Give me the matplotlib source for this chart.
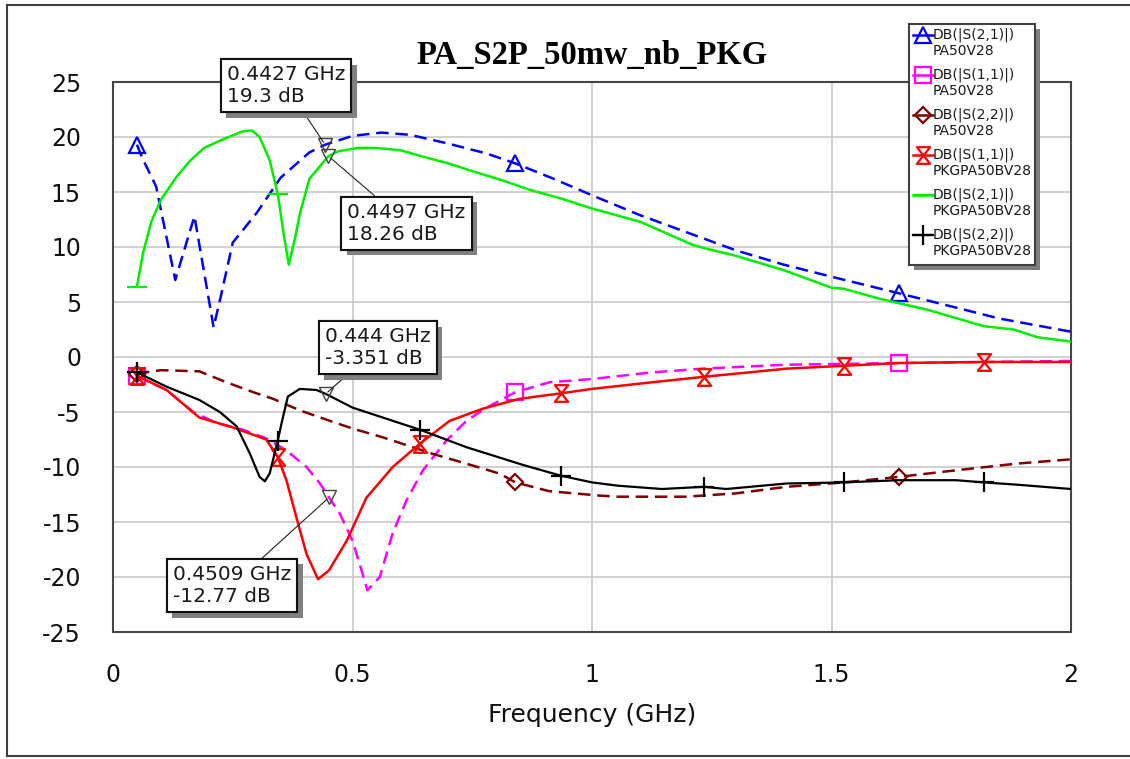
import matplotlib
matplotlib.use("Agg")
import matplotlib.pyplot as plt
import matplotlib.patheffects as pe
from matplotlib.lines import Line2D
from matplotlib.patches import Rectangle
from matplotlib.path import Path

plt.rcParams["axes.unicode_minus"] = False

W, H = 1130, 759

# --- data (GHz, dB) ---
# DB(|S(2,1)|) PA50V28
f_s21_pa = [0.05, 0.06, 0.09, 0.13, 0.17, 0.21, 0.225, 0.25, 0.30, 0.35, 0.41, 0.4427,
            0.50, 0.56, 0.62, 0.70, 0.78, 0.84, 0.92, 1.0, 1.1, 1.2, 1.3, 1.4, 1.5,
            1.64, 1.75, 1.85, 2.0]
db_s21_pa = [19.3, 18.2, 15.5, 7.0, 12.8, 2.7, 5.5, 10.4, 13.1, 16.3, 18.6, 19.3,
             20.1, 20.4, 20.2, 19.4, 18.5, 17.6, 16.2, 14.7, 12.9, 11.3, 9.7, 8.4, 7.3,
             5.8, 4.6, 3.5, 2.3]
mk_s21_pa = [0.05, 0.84, 1.64]

# DB(|S(1,1)|) PA50V28
f_s11_pa = [0.05, 0.112, 0.167, 0.216, 0.27, 0.32, 0.362, 0.404, 0.432, 0.4509, 0.473,
            0.50, 0.521, 0.531, 0.557, 0.584, 0.613, 0.647, 0.696, 0.738, 0.78, 0.84,
            0.911, 1.0, 1.125, 1.23, 1.406, 1.64, 2.0]
db_s11_pa = [-1.75, -3.0, -5.0, -6.0, -6.6, -7.4, -8.5, -10.0, -11.5, -12.77, -14.2,
             -16.7, -19.7, -21.2, -20.0, -16.0, -13.0, -10.3, -7.6, -5.8, -4.6, -3.2,
             -2.3, -2.0, -1.4, -1.06, -0.7, -0.55, -0.36]
mk_s11_pa = [0.05, 0.84, 1.64]

# DB(|S(2,2)|) PA50V28
f_s22_pa = [0.05, 0.10, 0.18, 0.237, 0.293, 0.334, 0.39, 0.459, 0.50, 0.563, 0.626,
            0.667, 0.738, 0.807, 0.84, 0.911, 1.016, 1.054, 1.195, 1.30, 1.406, 1.526,
            1.64, 1.76, 1.885, 2.0]
db_s22_pa = [-1.5, -1.2, -1.3, -2.3, -3.2, -3.8, -4.85, -5.9, -6.5, -7.3, -8.2,
             -8.8, -9.7, -10.6, -11.4, -12.2, -12.6, -12.7, -12.7, -12.4, -11.8, -11.4,
             -10.9, -10.3, -9.7, -9.3]
mk_s22_pa = [0.05, 0.84, 1.64]

# DB(|S(1,1)|) PKGPA50BV28
f_s11_pkg = [0.05, 0.112, 0.18, 0.25, 0.32, 0.344, 0.362, 0.383, 0.404, 0.428, 0.4509,
             0.488, 0.529, 0.584, 0.64, 0.703, 0.772, 0.849, 0.936, 1.0, 1.125, 1.234,
             1.406, 1.526, 1.64, 1.818, 2.0]
db_s11_pkg = [-1.7, -3.0, -5.5, -6.4, -7.5, -9.1, -11.2, -14.6, -17.9, -20.2, -19.4,
              -16.7, -12.8, -10.0, -7.9, -5.8, -4.7, -3.8, -3.3, -2.9, -2.3, -1.8,
              -1.06, -0.8, -0.55, -0.45, -0.45]
mk_s11_pkg = [0.05, 0.344, 0.64, 0.936, 1.234, 1.526, 1.818]

# DB(|S(2,1)|) PKGPA50BV28
f_s21_pkg = [0.05, 0.063, 0.08, 0.10, 0.133, 0.16, 0.19, 0.23, 0.27, 0.29, 0.306, 0.327,
             0.344, 0.357, 0.367, 0.38, 0.39, 0.41, 0.4497, 0.47, 0.51, 0.55, 0.60, 0.64,
             0.70, 0.75, 0.81, 0.87, 0.936, 1.0, 1.1, 1.21, 1.234, 1.3, 1.4, 1.5, 1.526,
             1.6, 1.7, 1.818, 1.88, 1.93, 2.0]
db_s21_pkg = [6.4, 9.5, 12.3, 14.3, 16.4, 17.8, 19.0, 19.8, 20.5, 20.6, 20.0, 17.9,
              14.8, 11.0, 8.4, 10.8, 13.0, 16.2, 18.26, 18.7, 19.0, 19.0, 18.8, 18.3,
              17.6, 16.9, 16.1, 15.2, 14.4, 13.5, 12.3, 10.2, 9.9, 9.2, 7.9, 6.3, 6.2,
              5.3, 4.3, 2.8, 2.5, 1.8, 1.4]
mk_s21_pkg = [0.05, 0.344]

# DB(|S(2,2)|) PKGPA50BV28
f_s22_pkg = [0.05, 0.112, 0.18, 0.223, 0.258, 0.286, 0.306, 0.317, 0.327, 0.344, 0.352,
             0.365, 0.39, 0.425, 0.444, 0.50, 0.563, 0.64, 0.738, 0.855, 0.936, 1.0,
             1.054, 1.146, 1.234, 1.28, 1.406, 1.526, 1.64, 1.76, 1.818, 1.885, 2.0]
db_s22_pkg = [-1.4, -2.7, -3.9, -5.0, -6.3, -8.8, -10.9, -11.3, -10.6, -7.6, -6.0,
              -3.6, -2.9, -3.0, -3.351, -4.6, -5.5, -6.6, -8.2, -9.8, -10.8, -11.4,
              -11.7, -12.0, -11.8, -12.0, -11.5, -11.4, -11.2, -11.2, -11.4, -11.6, -12.0]
mk_s22_pkg = [0.05, 0.344, 0.64, 0.936, 1.234, 1.526, 1.818]

# marker readouts
ann_f = [0.4427, 0.4497, 0.444, 0.4509]
ann_db = [19.3, 18.26, -3.351, -12.77]
ann_text = ["0.4427 GHz\n19.3 dB", "0.4497 GHz\n18.26 dB",
            "0.444 GHz\n-3.351 dB", "0.4509 GHz\n-12.77 dB"]
ann_offset = [(-39, 59), (78, -67), (52, 46), (-97, -88)]

x_ticks = [0, 0.5, 1, 1.5, 2]
x_ticklabels = ["0", "0.5", "1", "1.5", "2"]
y_ticks = list(range(-25, 30, 5))

bowtie = Path([(-0.8, 1), (0.8, 1), (-0.8, -1), (0.8, -1), (-0.8, 1)],
              [Path.MOVETO, Path.LINETO, Path.LINETO, Path.LINETO, Path.CLOSEPOLY])

dash = (0, (5, 2.7))
series = [
    (f_s21_pa, db_s21_pa, mk_s21_pa, dict(color="#0000ff", ls=dash, lw=1.8, marker="^", ms=11),
     "DB(|S(2,1)|)", "PA50V28"),
    (f_s11_pa, db_s11_pa, mk_s11_pa, dict(color="#ff00ff", ls=dash, lw=1.8, marker="s", ms=12),
     "DB(|S(1,1)|)", "PA50V28"),
    (f_s22_pa, db_s22_pa, mk_s22_pa, dict(color="#800000", ls=dash, lw=1.8, marker="D", ms=8),
     "DB(|S(2,2)|)", "PA50V28"),
    (f_s11_pkg, db_s11_pkg, mk_s11_pkg, dict(color="#ff0000", ls="-", lw=1.8, marker=bowtie, ms=12),
     "DB(|S(1,1)|)", "PKGPA50BV28"),
    (f_s21_pkg, db_s21_pkg, mk_s21_pkg, dict(color="#00ee00", ls="-", lw=1.8, marker="_", ms=14),
     "DB(|S(2,1)|)", "PKGPA50BV28"),
    (f_s22_pkg, db_s22_pkg, mk_s22_pkg, dict(color="#000000", ls="-", lw=1.6, marker="+", ms=14),
     "DB(|S(2,2)|)", "PKGPA50BV28"),
]

fig = plt.figure(figsize=(W / 100, H / 100), dpi=100)
ax = fig.add_axes([113 / W, 1 - 632 / H, (1071 - 113) / W, (632 - 82) / H])

for f, db, mk, st, _, _ in series:
    idx = [f.index(m) for m in mk]
    ax.plot(f, db, color=st["color"], ls=st["ls"], lw=st["lw"], marker=st["marker"],
            ms=st["ms"], mfc="none", mec=st["color"], mew=1.6, markevery=idx, zorder=3)

ax.set_xlim(0, 2)
ax.set_ylim(-25, 25)
ax.set_xticks(x_ticks)
ax.set_xticklabels(x_ticklabels)
ax.set_yticks(y_ticks)
ax.tick_params(length=0, labelsize=17, colors="#111111")
ax.tick_params(axis="x", pad=22)
ax.tick_params(axis="y", pad=23)
ax.grid(True, color="#c8c8c8", lw=1.2)
ax.set_axisbelow(True)
for sp in ax.spines.values():
    sp.set_color("#454545")
    sp.set_linewidth(1.5)
ax.set_xlabel("Frequency (GHz)", fontsize=18, labelpad=12, color="#111111")

# marker readout boxes with drop shadow
shadow = [pe.withSimplePatchShadow(offset=(4, -4), shadow_rgbFace="#808080", alpha=1.0),
          pe.Normal()]
for f, db, txt, (dx, dy) in zip(ann_f, ann_db, ann_text, ann_offset):
    ax.plot([f], [db], marker="v", ms=10, mfc="none", mec="#404040", mew=1.0, zorder=4)
    a = ax.annotate(txt, xy=(f, db), xytext=(dx, dy), textcoords="offset pixels",
                    ha="center", va="center", multialignment="left", fontsize=14.5,
                    color="#1a1a1a", zorder=6, annotation_clip=False,
                    bbox=dict(boxstyle="square,pad=0.3", fc="white", ec="#111111", lw=1.5),
                    arrowprops=dict(arrowstyle="-", color="#222222", lw=0.8,
                                    shrinkA=0, shrinkB=2))
    a.get_bbox_patch().set_path_effects(shadow)

# title
fig.text(592 / W, 1 - 64 / H, "PA_S2P_50mw_nb_PKG", ha="center", va="baseline",
         fontsize=23.5, fontweight="bold", family="Liberation Serif")


def fx(x):
    return x / W


def fy(y):
    return 1 - y / H


# legend box (drawn by hand like the AWR one)
fig.add_artist(Rectangle((fx(914), fy(270)), (1035 - 909) / W, (265 - 24) / H,
                         transform=fig.transFigure, fc="#808080", ec="none", zorder=5))
fig.add_artist(Rectangle((fx(909), fy(265)), (1035 - 909) / W, (265 - 24) / H,
                         transform=fig.transFigure, fc="white", ec="#404040", lw=1.5, zorder=6))
for i, (_, _, _, st, l1, l2) in enumerate(series):
    y1 = 35 + 40 * i
    fig.add_artist(Line2D([fx(913), fx(923), fx(933)], [fy(y1)] * 3, transform=fig.transFigure,
                          color=st["color"], ls="-", lw=st["lw"], marker=st["marker"],
                          ms=st["ms"], mfc="none", mec=st["color"], mew=1.6,
                          markevery=[1], zorder=7))
    fig.text(fx(933), fy(y1), l1, fontsize=10, va="center", ha="left", color="#1a1a1a", zorder=7)
    fig.text(fx(933), fy(y1 + 16), l2, fontsize=10, va="center", ha="left", color="#1a1a1a", zorder=7)

# outer frame of the graph window: top, left, bottom only
for xs, ys in [([7, 1160], [5, 5]), ([7, 7], [5, 756]), ([7, 1160], [756, 756])]:
    fig.add_artist(Line2D([fx(v) for v in xs], [fy(v) for v in ys],
                          transform=fig.transFigure, color="#404040", lw=1.5, zorder=1))

fig.savefig("out.png", dpi=100)
